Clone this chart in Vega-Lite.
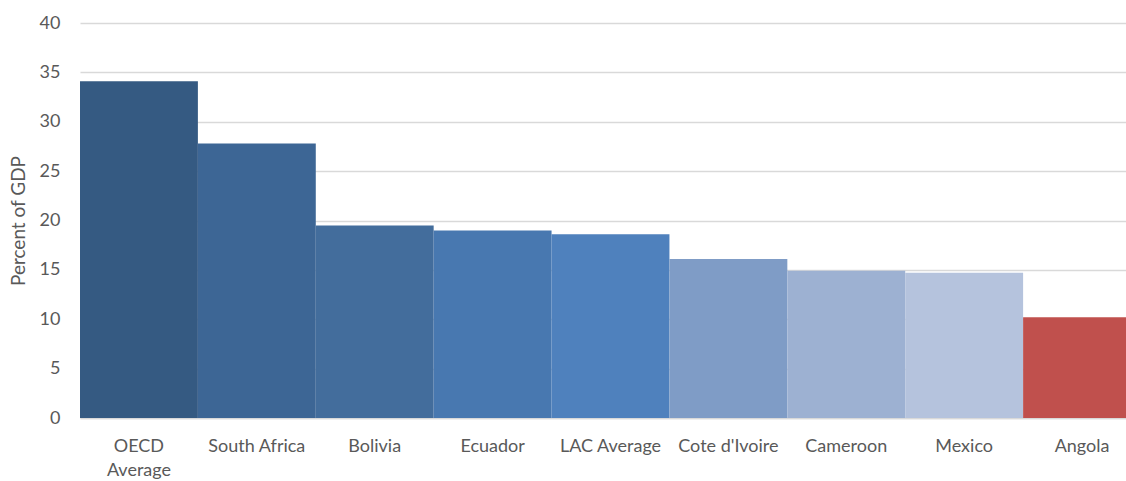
{
  "$schema": "https://vega.github.io/schema/vega-lite/v6.json",
  "autosize": {"type": "none"},
  "width": 1046,
  "height": 395,
  "padding": {"left": 80, "top": 23, "right": 0, "bottom": 63},
  "background": "white",
  "data": {
    "values": [
      {"country": "OECD Average", "value": 34.1},
      {"country": "South Africa", "value": 27.8},
      {"country": "Bolivia", "value": 19.5},
      {"country": "Ecuador", "value": 19.0},
      {"country": "LAC Average", "value": 18.6},
      {"country": "Cote d'Ivoire", "value": 16.1},
      {"country": "Cameroon", "value": 14.9},
      {"country": "Mexico", "value": 14.7},
      {"country": "Angola", "value": 10.2}
    ]
  },
  "mark": {"type": "bar"},
  "encoding": {
    "x": {
      "field": "country",
      "type": "nominal",
      "sort": null,
      "scale": {"range": [0, 1061], "paddingInner": 0, "paddingOuter": 0},
      "axis": {
        "title": null,
        "labelAngle": 0,
        "ticks": false,
        "labelPadding": 19,
        "labelFont": "Lato",
        "labelFontSize": 18,
        "labelColor": "#595959",
        "labelLineHeight": 24,
        "labelExpr": "datum.label == 'OECD Average' ? ['OECD', 'Average'] : datum.label",
        "domainColor": "#d9d9d9",
        "domainWidth": 1.3,
        "labelOverlap": false
      }
    },
    "y": {
      "field": "value",
      "type": "quantitative",
      "scale": {"domain": [0, 40], "nice": false},
      "axis": {
        "title": "Percent of GDP",
        "titleFont": "Lato",
        "titleFontSize": 19,
        "titleFontWeight": "normal",
        "titleColor": "#595959",
        "titlePadding": 11,
        "values": [0, 5, 10, 15, 20, 25, 30, 35, 40],
        "ticks": false,
        "domain": false,
        "labelPadding": 20,
        "labelFont": "Lato",
        "labelFontSize": 18,
        "labelColor": "#595959",
        "gridColor": "#d9d9d9",
        "gridWidth": 1.3
      }
    },
    "color": {
      "field": "country",
      "type": "nominal",
      "legend": null,
      "scale": {
        "domain": ["OECD Average", "South Africa", "Bolivia", "Ecuador", "LAC Average", "Cote d'Ivoire", "Cameroon", "Mexico", "Angola"],
        "range": ["#355a82", "#3d6695", "#436d9c", "#4878b0", "#4f81bd", "#7f9cc6", "#9db1d2", "#b5c3dd", "#c0504d"]
      }
    }
  },
  "config": {"view": {"stroke": null}}
}
